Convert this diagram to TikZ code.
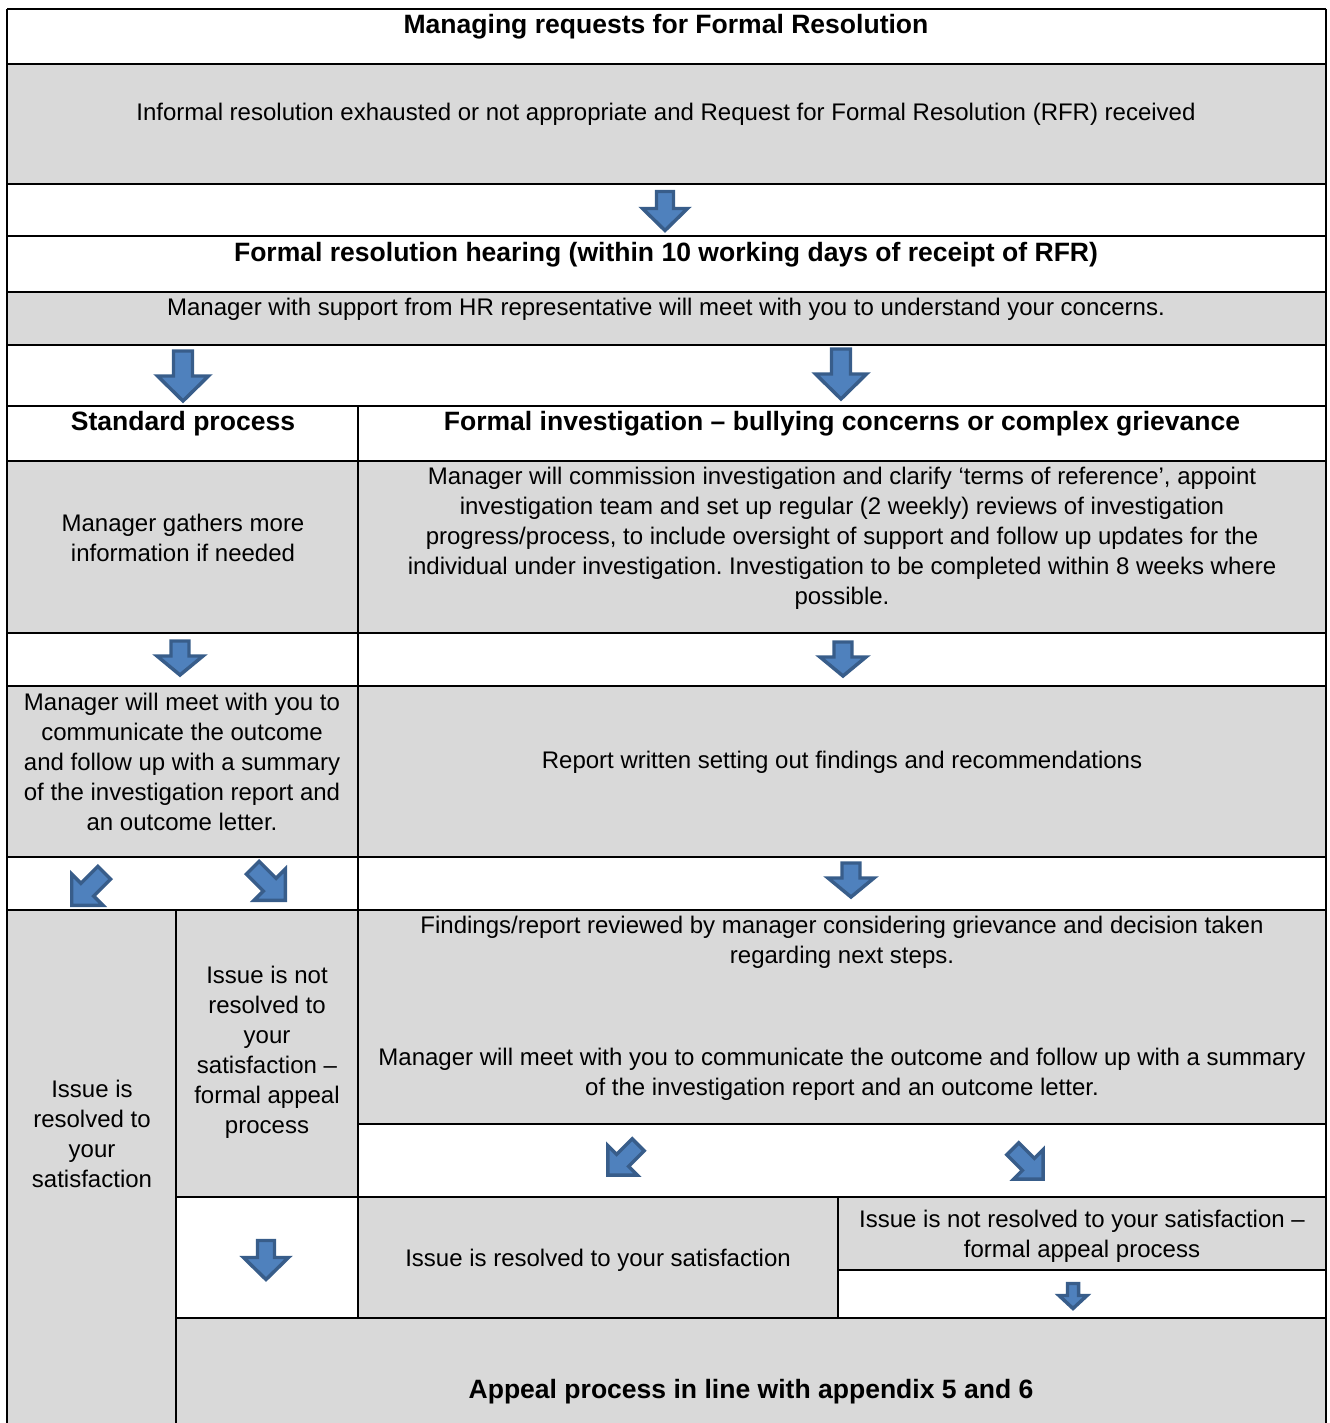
\documentclass[tikz,border=0pt]{standalone}
\usepackage{fontspec}
\setmainfont{Liberation Sans}
\frenchspacing
\definecolor{cellgray}{HTML}{D9D9D9}
\definecolor{arrfill}{HTML}{4F81BD}
\definecolor{arrline}{HTML}{385D8A}
\begin{document}
\begin{tikzpicture}[x=0.75pt,y=-0.75pt,
  grid/.style={line width=1.6pt,black},
  txt/.style={align=center,inner sep=0pt,font=\fontsize{18pt}{22.5pt}\selectfont},
  btxt/.style={txt,font=\fontsize{19.9pt}{22.5pt}\selectfont\bfseries},
  pics/blk/.style n args={4}{code={
    \filldraw[fill=arrfill,draw=arrline,line width=2.6pt,line join=miter]
      (-#1,-#3/2) -- (#1,-#3/2) -- (#1,#3/2-#4) -- (#2,#3/2-#4) -- (0,#3/2)
      -- (-#2,#3/2-#4) -- (-#1,#3/2-#4) -- cycle;}}]
\useasboundingbox (0,0) rectangle (1330,1423);
% gray fills
\fill[cellgray] (7,64) rectangle (1326,184);
\fill[cellgray] (7,292) rectangle (1326,345);
\fill[cellgray] (7,461) rectangle (1326,633);
\fill[cellgray] (7,686) rectangle (1326,857);
\fill[cellgray] (7,910) rectangle (176,1423);
\fill[cellgray] (176,910) rectangle (358,1197);
\fill[cellgray] (358,910) rectangle (1326,1124);
\fill[cellgray] (358,1197) rectangle (838,1318);
\fill[cellgray] (838,1197) rectangle (1326,1270);
\fill[cellgray] (176,1318) rectangle (1326,1423);
% grid lines
\foreach \yy in {9,64,184,236,292,345,406,461,633,686,857,910}
  \draw[grid] (7,\yy) -- (1326,\yy);
\draw[grid] (358,1124) -- (1326,1124);
\draw[grid] (176,1197) -- (1326,1197);
\draw[grid] (838,1270) -- (1326,1270);
\draw[grid] (176,1318) -- (1326,1318);
\draw[grid] (7,9) -- (7,1423);
\draw[grid] (1326,9) -- (1326,1423);
\draw[grid] (358,406) -- (358,1318);
\draw[grid] (176,910) -- (176,1423);
\draw[grid] (838,1197) -- (838,1318);
% texts
\node[btxt] (title) at (666,27) {Managing requests for Formal Resolution};
\node[txt] (informal) at (666,114) {Informal resolution exhausted or not appropriate and Request for Formal Resolution (RFR) received};
\node[btxt] (hearing) at (666,255) {Formal resolution hearing (within 10 working days of receipt of RFR)};
\node[txt] (support) at (666,309) {Manager with support from HR representative will meet with you to understand your concerns.};
\node[btxt] (standard) at (183,424) {Standard process};
\node[btxt] (formalinv) at (842,424) {Formal investigation – bullying concerns or complex grievance};
\node[txt] (gathers) at (183,538) {Manager gathers more\\information if needed};
\node[txt] (commission) at (842,538) {Manager will commission investigation and clarify ‘terms of reference’, appoint\\investigation team and set up regular (2 weekly) reviews of investigation\\progress/process, to include oversight of support and follow up updates for the\\individual under investigation. Investigation to be completed within 8 weeks where\\possible.};
\node[txt] (meetleft) at (182,762) {Manager will meet with you to\\communicate the outcome\\and follow up with a summary\\of the investigation report and\\an outcome letter.};
\node[txt] (report) at (842,762) {Report written setting out findings and recommendations};
\node[txt] (resolvedleft) at (92,1134) {Issue is\\resolved to\\your\\satisfaction};
\node[txt] (notresolvedleft) at (267,1052) {Issue is not\\resolved to\\your\\satisfaction –\\formal appeal\\process};
\node[txt] (findings) at (842,942) {Findings/report reviewed by manager considering grievance and decision taken\\regarding next steps.};
\node[txt] (meetright) at (842,1074) {Manager will meet with you to communicate the outcome and follow up with a summary\\of the investigation report and an outcome letter.};
\node[txt] (resolvedright) at (598,1260) {Issue is resolved to your satisfaction};
\node[txt] (notresolvedright) at (1082,1236) {Issue is not resolved to your satisfaction –\\formal appeal process};
\node[btxt] (appeal) at (751,1392) {Appeal process in line with appendix 5 and 6};
% block arrows
\pic at (665,211) {blk={8.5}{22.5}{39}{22}};
\pic at (183,376) {blk={9.5}{25.5}{50}{25}};
\pic at (841,374) {blk={9.5}{25.5}{50}{25}};
\pic at (180,658) {blk={9}{23}{34}{19}};
\pic at (843,659) {blk={9}{23}{34}{19}};
\pic at (851,880) {blk={9}{23}{34}{19}};
\pic at (266,1260) {blk={8.5}{22.5}{39}{22}};
\pic at (1073,1296) {blk={5.5}{14}{25}{13}};
\pic[rotate=-45] at (88,889) {blk={9}{22}{46}{22}};
\pic[rotate=45] at (269,884) {blk={9}{22}{46}{22}};
\pic[rotate=-45] at (623,1160) {blk={8.5}{21}{43}{21}};
\pic[rotate=45] at (1028,1164) {blk={8.5}{21}{43}{21}};
\end{tikzpicture}
\end{document}
